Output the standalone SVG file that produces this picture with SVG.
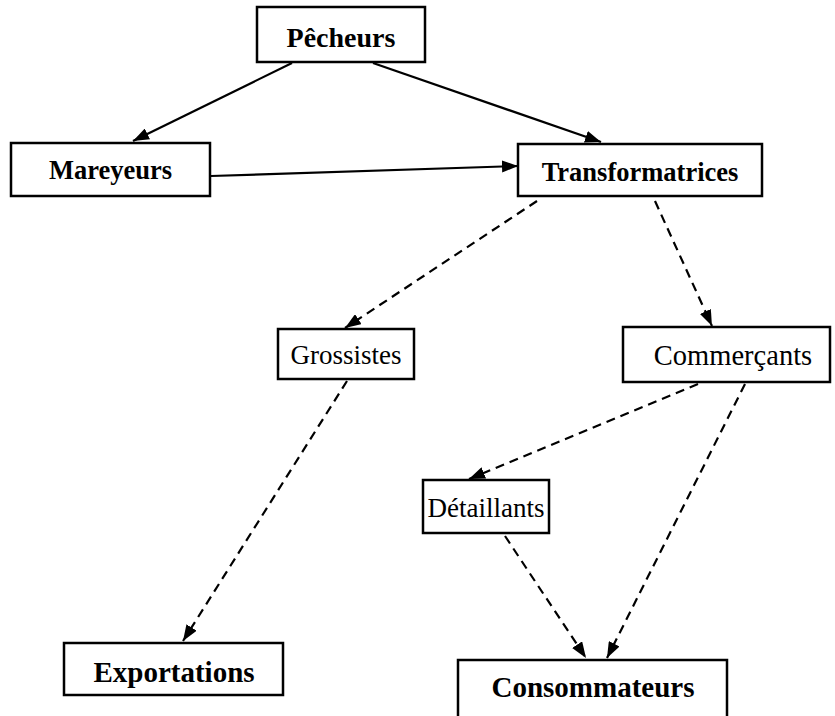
<svg xmlns="http://www.w3.org/2000/svg" width="835" height="716" viewBox="0 0 835 716">
<style>
.box{fill:#fff;stroke:#000;stroke-width:2.5}
.t{font-family:"Liberation Serif","Times New Roman",serif;fill:#000;text-anchor:middle}
.b{font-weight:bold}
.c{stroke:#000;stroke-width:2.2;fill:none}
.d{stroke-dasharray:9,6}
</style>
<defs>
<marker id="ah" viewBox="0 0 16 12" refX="16" refY="6" markerWidth="16" markerHeight="12" markerUnits="userSpaceOnUse" orient="auto">
<path d="M0,0 L16,6 L0,12 z" fill="#000"/>
</marker>
</defs>
<rect width="835" height="716" fill="#fff"/>
<g id="connectors">
<line class="c" x1="292" y1="63" x2="133" y2="141" marker-end="url(#ah)"/>
<line class="c" x1="373" y1="63" x2="601" y2="142" marker-end="url(#ah)"/>
<line class="c" x1="211" y1="176" x2="518" y2="166" marker-end="url(#ah)"/>
<line class="c d" x1="537" y1="201" x2="345" y2="328" marker-end="url(#ah)"/>
<line class="c d" x1="655" y1="201" x2="712" y2="326" marker-end="url(#ah)"/>
<line class="c d" x1="347" y1="381" x2="183" y2="641" marker-end="url(#ah)"/>
<line class="c d" x1="698" y1="384" x2="469" y2="479" marker-end="url(#ah)"/>
<line class="c d" x1="745" y1="384" x2="607" y2="658" marker-end="url(#ah)"/>
<line class="c d" x1="505" y1="536" x2="586" y2="658" marker-end="url(#ah)"/>
</g>
<g id="pecheurs"><rect class="box" x="257" y="7" width="168" height="55"/><text class="t b" x="341" y="47" font-size="28">Pêcheurs</text></g>
<g id="mareyeurs"><rect class="box" x="11" y="143" width="199" height="53"/><text class="t b" x="110.5" y="179" font-size="26.5">Mareyeurs</text></g>
<g id="transformatrices"><rect class="box" x="518" y="144" width="244" height="52"/><text class="t b" x="640" y="181" font-size="26.5">Transformatrices</text></g>
<g id="grossistes"><rect class="box" x="278" y="329" width="136" height="50"/><text class="t" x="346" y="364" font-size="27">Grossistes</text></g>
<g id="commercants"><rect class="box" x="623" y="327" width="207" height="55"/><text class="t" x="733" y="365" font-size="28.5">Commerçants</text></g>
<g id="detaillants"><rect class="box" x="423" y="480" width="126" height="53"/><text class="t" x="486" y="517" font-size="27">Détaillants</text></g>
<g id="exportations"><rect class="box" x="64" y="643" width="219" height="52"/><text class="t b" x="174" y="682" font-size="29">Exportations</text></g>
<g id="consommateurs"><rect class="box" x="458" y="660" width="269" height="70"/><text class="t b" x="593" y="697" font-size="29">Consommateurs</text></g>
</svg>
